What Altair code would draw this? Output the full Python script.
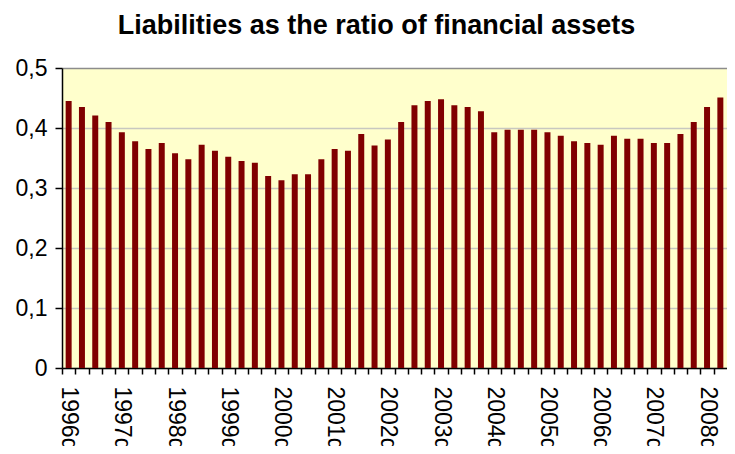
import altair as alt
import pandas as pd

years = list(range(1996, 2009))
quarters = [f"{y}q{q}" for y in years for q in range(1, 5)][:50]

values = [
    0.445, 0.435, 0.421, 0.410, 0.393, 0.378, 0.365, 0.375, 0.358, 0.348,
    0.372, 0.362, 0.352, 0.345, 0.342, 0.320, 0.313, 0.323, 0.323, 0.348,
    0.365, 0.362, 0.390, 0.371, 0.381, 0.410, 0.438, 0.445, 0.448, 0.438,
    0.435, 0.428, 0.393, 0.397, 0.397, 0.397, 0.393, 0.387, 0.378, 0.375,
    0.372, 0.387, 0.382, 0.382, 0.375, 0.375, 0.390, 0.410, 0.435, 0.451,
]

y_ticks = [0, 0.1, 0.2, 0.3, 0.4, 0.5]

df = pd.DataFrame({"quarter": quarters, "value": values})

FONT = "Liberation Sans"
W = 665
H = 300
half_step = W / len(quarters) / 2

chart = (
    alt.Chart(df)
    .mark_bar(color="#800000")
    .encode(
        x=alt.X(
            "quarter:N",
            sort=quarters,
            scale=alt.Scale(paddingInner=0.55, paddingOuter=0.275),
            axis=alt.Axis(
                title=None,
                grid=False,
                domainColor="black",
                domainWidth=1.5,
                tickColor="black",
                tickWidth=1.5,
                tickSize=6,
                bandPosition=0.5,
                tickOffset=-half_step,
                labelOffset=half_step,
                labelAngle=90,
                labelAlign="left",
                labelBaseline="middle",
                labelFont=FONT,
                labelFontSize=23,
                labelColor="black",
                labelPadding=12,
                labelOverlap=False,
                labelExpr="indexof(datum.value, 'q1') >= 0 ? datum.value : ''",
            ),
        ),
        y=alt.Y(
            "value:Q",
            scale=alt.Scale(domain=[0, 0.5]),
            axis=alt.Axis(
                title=None,
                values=y_ticks,
                domainColor="black",
                domainWidth=1.5,
                tickColor="black",
                tickWidth=1.5,
                tickSize=7,
                labelFont=FONT,
                labelFontSize=23,
                labelColor="black",
                labelPadding=8,
                labelExpr="datum.value == 0 ? '0' : replace(format(datum.value, '.1f'), '.', ',')",
                gridColor={"condition": {"test": "datum.value >= 0.5", "value": "#8c8c8c"}, "value": "#c8c8c0"},
                gridWidth=1.5,
            ),
        ),
    )
    .properties(
        width=W,
        height=H,
        title=alt.Title(
            "Liabilities as the ratio of financial assets",
            font=FONT,
            fontSize=27,
            fontWeight="bold",
            color="black",
            anchor="middle",
            offset=17,
            dx=-18,
        ),
        autosize=alt.AutoSizeParams(type="none"),
        padding={"left": 54, "top": 60, "right": 0, "bottom": 78},
        background="white",
    )
    .configure_view(stroke=None, fill="#FFFFCC")
)

chart.save("out.html", embed_options={"renderer": "svg", "actions": False})
